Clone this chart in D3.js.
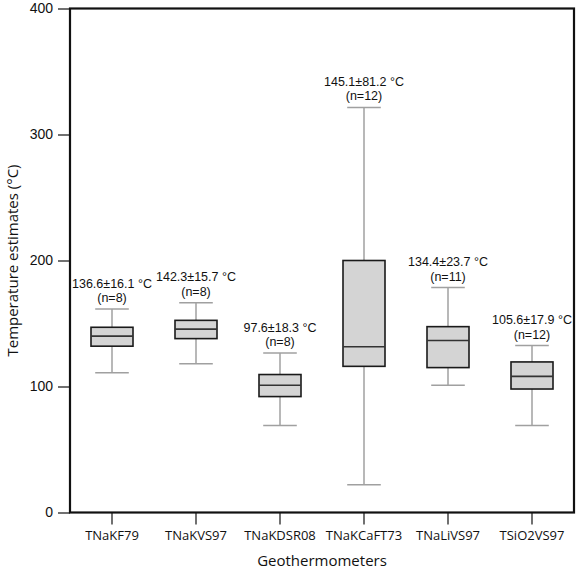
<!DOCTYPE html>
<html>
<head>
<meta charset="utf-8">
<script src="https://cdn.jsdelivr.net/npm/d3@7"></script>
<style>
  body { margin: 0; background: #fff; }
  text { font-family: "Open Sans", sans-serif; }
</style>
</head>
<body>
<svg id="chart"></svg>
<script>
// values
const categories = ['TNaKF79', 'TNaKVS97', 'TNaKDSR08', 'TNaKCaFT73', 'TNaLiVS97', 'TSiO2VS97'];
const whisker_low  = [111, 118, 69, 22, 101, 69];
const q1           = [132, 138, 92, 116, 115, 98];
const medians      = [140, 145.5, 101, 131.5, 136.5, 108];
const q3           = [147, 152.5, 109.5, 200, 147.5, 119.5];
const whisker_high = [161.5, 166.5, 126.5, 321.5, 178.5, 132.5];
const stat_labels  = ['136.6±16.1 °C', '142.3±15.7 °C', '97.6±18.3 °C', '145.1±81.2 °C', '134.4±23.7 °C', '105.6±17.9 °C'];
const n_labels     = ['(n=8)', '(n=8)', '(n=8)', '(n=12)', '(n=11)', '(n=12)'];
const y_ticks      = [0, 100, 200, 300, 400];

let chart_width = 582;
let chart_height = 570;
let plot_left = 70, plot_right = 574, plot_top = 8.5, plot_bottom = 512.5;
let compact_font = '"Liberation Sans", Arial, sans-serif';

var svg = d3.select('#chart')
    .attr('width', chart_width)
    .attr('height', chart_height);

var x_range = d3.scaleBand()
    .domain(categories)
    .range([plot_left, plot_right])
    .padding(0);

var y_range = d3.scaleLinear()
    .domain([0, 400])
    .range([plot_bottom, plot_top]);

let box_w = x_range.bandwidth() / 2;
let cap_w = x_range.bandwidth() * 0.4;

var boxes = svg.append('g');

categories.forEach(function (cat, i) {
    let cx = x_range(cat) + x_range.bandwidth() / 2;
    let g = boxes.append('g');

    // whisker stems
    g.append('line')
        .attr('x1', cx).attr('x2', cx)
        .attr('y1', y_range(whisker_high[i])).attr('y2', y_range(q3[i]))
        .style('stroke', '#a0a0a0').style('stroke-width', 1.5);
    g.append('line')
        .attr('x1', cx).attr('x2', cx)
        .attr('y1', y_range(q1[i])).attr('y2', y_range(whisker_low[i]))
        .style('stroke', '#a0a0a0').style('stroke-width', 1.5);

    // caps
    [whisker_high[i], whisker_low[i]].forEach(function (v) {
        g.append('line')
            .attr('x1', cx - cap_w / 2).attr('x2', cx + cap_w / 2)
            .attr('y1', y_range(v)).attr('y2', y_range(v))
            .style('stroke', '#a0a0a0').style('stroke-width', 1.5);
    });

    g.append('rect')
        .attr('x', cx - box_w / 2)
        .attr('width', box_w)
        .attr('y', y_range(q3[i]))
        .attr('height', y_range(q1[i]) - y_range(q3[i]))
        .style('fill', '#d4d4d4')
        .style('stroke', '#1a1a1a')
        .style('stroke-width', 1.6);

    g.append('line')
        .attr('x1', cx - box_w / 2).attr('x2', cx + box_w / 2)
        .attr('y1', y_range(medians[i])).attr('y2', y_range(medians[i]))
        .style('stroke', '#333').style('stroke-width', 1.6);

    // two-line annotation above the top whisker
    let label = g.append('text')
        .attr('y', y_range(whisker_high[i]) - 21.5)
        .attr('text-anchor', 'middle')
        .style('font-size', '12.5px')
        .style('font-family', compact_font)
        .attr('fill', '#111');
    label.append('tspan').attr('x', cx).text(stat_labels[i]);
    label.append('tspan').attr('x', cx).attr('dy', 14.5).text(n_labels[i]);
});

// frame
svg.append('rect')
    .attr('x', plot_left).attr('y', plot_top)
    .attr('width', plot_right - plot_left).attr('height', plot_bottom - plot_top)
    .style('fill', 'none')
    .style('stroke', '#111')
    .style('stroke-width', 2.2);

var y_axis = svg.append('g')
    .attr('transform', 'translate(' + plot_left + ',0)')
    .call(d3.axisLeft(y_range).tickValues(y_ticks).tickSize(12).tickPadding(5));
y_axis.select('.domain').remove();
y_axis.selectAll('line').style('stroke', '#111').style('stroke-width', 1.2);
y_axis.selectAll('text').style('font-size', '14px').style('font-family', compact_font).attr('fill', '#111');

var x_axis = svg.append('g')
    .attr('transform', 'translate(0,' + plot_bottom + ')')
    .call(d3.axisBottom(x_range).tickSize(12).tickPadding(6));
x_axis.select('.domain').remove();
x_axis.selectAll('line').style('stroke', '#111').style('stroke-width', 1.2);
x_axis.selectAll('text').style('font-size', '13px').style('font-family', '"Open Sans", sans-serif').attr('fill', '#111');

svg.append('text')
    .attr('x', (plot_left + plot_right) / 2)
    .attr('y', 566)
    .attr('text-anchor', 'middle')
    .style('font-size', '15px')
    .attr('fill', '#111')
    .text('Geothermometers');

svg.append('text')
    .attr('transform', 'translate(18,' + (plot_top + plot_bottom) / 2 + ') rotate(-90)')
    .attr('text-anchor', 'middle')
    .style('font-size', '15px')
    .attr('fill', '#111')
    .text('Temperature estimates (°C)');
</script>
</body>
</html>
